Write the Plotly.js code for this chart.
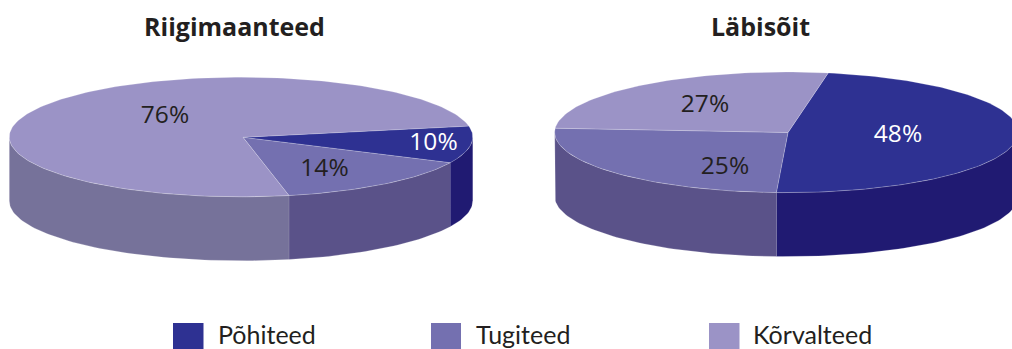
<!DOCTYPE html>
<html>
<head>
<meta charset="utf-8">
<script src="https://cdn.plot.ly/plotly-3.0.1.min.js"></script>
<style>html,body{margin:0;padding:0;background:#fff;overflow:hidden}#chart{width:1012px;height:349px}</style>
</head>
<body>
<div id="chart"></div>
<script>
// Data
const categories = ['Põhiteed', 'Tugiteed', 'Kõrvalteed'];
const titles = ['Riigimaanteed', 'Läbisõit'];
const labelsRiigimaanteed = ['10%', '14%', '76%'];
const labelsLabisoit = ['48%', '25%', '27%'];
const sharesRiigimaanteed = [10, 14.6, 75.4];
const sharesLabisoit = [47.8, 25.4, 26.8];

// Styles
const topColors = ['#2e3192', '#7470b0', '#9b93c6'];
const sideColors = ['#201a72', '#5a5289', '#76729a'];
const labelColors = ['#ffffff', '#231f20', '#231f20'];
const edge = 'rgba(255,255,255,0.4)';
const FONT = '"Open Sans", "Noto Sans", sans-serif';
const LEGEND_FONT = 'Lato, "Open Sans", sans-serif';

// Pie geometry (pixel-like axis units)
const pies = [
  {title: titles[0], shares: sharesRiigimaanteed, labels: labelsRiigimaanteed, start: 10.5,
   cx: 241, cy: 137, ax: 243, ay: 137.3, rx: 231.7, ry: 59.8, depth: 64, titleX: 234,
   labelPos: [[433.5, 144], [324.5, 170], [165, 117]]},
  {title: titles[1], shares: sharesLabisoit, labels: labelsLabisoit, start: 79.6,
   cx: 786.4, cy: 132.3, ax: 788, ay: 132.5, rx: 231.7, ry: 60.3, depth: 64, titleX: 760,
   labelPos: [[898, 136], [725, 168], [705, 106]]}
];

const rad = d => d * Math.PI / 180;
function arc(p, a0, a1, dy) {          // a0 > a1, clockwise on screen
  const n = Math.max(2, Math.ceil((a0 - a1) / 1.5));
  const xs = [], ys = [];
  for (let i = 0; i <= n; i++) {
    const t = rad(a0 + (a1 - a0) * i / n);
    xs.push(p.cx + p.rx * Math.cos(t));
    ys.push(p.cy - p.ry * Math.sin(t) + dy);
  }
  return [xs, ys];
}
function poly(xs, ys, fill, name) {
  return {type: 'scatter', mode: 'lines', x: xs, y: ys, fill: 'toself', fillcolor: fill,
          line: {color: edge, width: 0.5}, hoverinfo: 'skip', name: name, showlegend: false};
}

const sideTraces = [], topTraces = [], labelTraces = [];
pies.forEach(p => {
  let a = p.start;
  p.shares.forEach((s, i) => {
    const a0 = a, a1 = a - s * 3.6;
    a = a1;
    [0, 360, -360].forEach(shift => {
      const hi = Math.min(a0 + shift, 0), lo = Math.max(a1 + shift, -180);
      if (hi > lo) {
        const [x1, y1] = arc(p, hi, lo, 0);
        const [x2, y2] = arc(p, hi, lo, p.depth);
        sideTraces.push(poly(x1.concat(x2.reverse()), y1.concat(y2.reverse()), sideColors[i], categories[i]));
      }
    });
    const [x, y] = arc(p, a0, a1, 0);
    topTraces.push(poly([p.ax].concat(x, [p.ax]), [p.ay].concat(y, [p.ay]), topColors[i], categories[i]));
  });
  labelTraces.push({
    type: 'scatter', mode: 'text', x: p.labelPos.map(q => q[0]), y: p.labelPos.map(q => q[1]),
    text: p.labels, textposition: 'middle center',
    textfont: {family: FONT, size: 24.5, color: labelColors}, hoverinfo: 'skip', showlegend: false
  });
});

// Legend and titles
const legendX = [[173, 203.5], [431, 461], [709, 739.5]];
const legendTextX = [216, 474, 751];
const shapes = categories.map((c, i) => ({
  type: 'rect', xref: 'x', yref: 'y', x0: legendX[i][0], x1: legendX[i][1], y0: 323, y1: 349,
  fillcolor: topColors[i], line: {width: 0}
}));
const annotations = categories.map((c, i) => ({
  text: c, xref: 'x', yref: 'y', x: legendTextX[i], y: 334, xanchor: 'left', yanchor: 'middle',
  showarrow: false, font: {family: LEGEND_FONT, size: 25, color: '#231f20'}
})).concat(pies.map(p => ({
  text: p.title, xref: 'x', yref: 'y', x: p.titleX, y: 26, xanchor: 'center', yanchor: 'middle',
  showarrow: false, font: {family: FONT, size: 25, weight: 700, color: '#231f20'}
})));

const hidden = {visible: false, fixedrange: true};
Plotly.newPlot('chart', sideTraces.concat(topTraces, labelTraces), {
  width: 1012, height: 349,
  margin: {l: 0, r: 0, t: 0, b: 0},
  paper_bgcolor: '#ffffff', plot_bgcolor: '#ffffff',
  xaxis: Object.assign({range: [0, 1012]}, hidden),
  yaxis: Object.assign({range: [349, 0]}, hidden),
  shapes: shapes, annotations: annotations, showlegend: false
}, {displayModeBar: false, staticPlot: true});
</script>
</body>
</html>
